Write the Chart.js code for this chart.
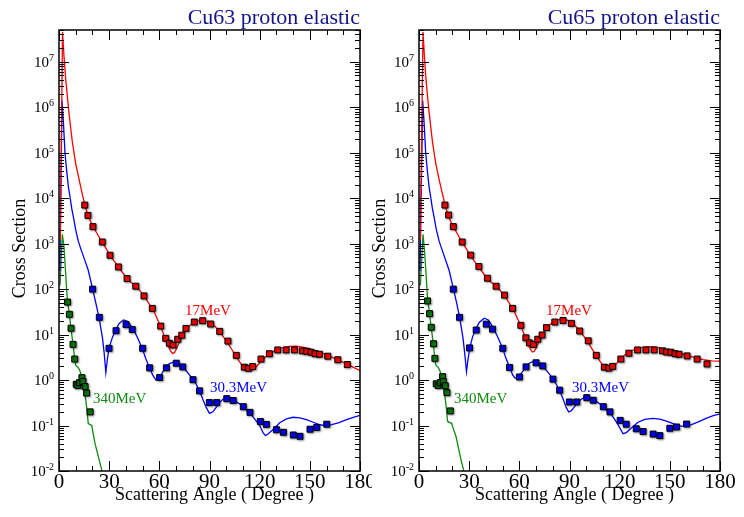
<!DOCTYPE html>
<html>
<head>
<meta charset="utf-8">
<title>Cu63 / Cu65 proton elastic</title>
<script src="https://cdn.jsdelivr.net/npm/chart.js@4.4.0/dist/chart.umd.min.js"></script>
<style>
  html, body { margin: 0; padding: 0; background: #fff; }
  #wrap { position: relative; width: 744px; height: 517px; }
  .panel { position: absolute; top: 0; width: 372px; height: 517px; }
</style>
</head>
<body>
<div id="wrap">
  <div class="panel" style="left:0"><canvas id="cu63" width="372" height="517"></canvas></div>
  <div class="panel" style="left:372px"><canvas id="cu65" width="372" height="517"></canvas></div>
</div>
<script>
// axis ticks
const xTicks = [0, 30, 60, 90, 120, 150, 180];
const yExponents = [-2, -1, 0, 1, 2, 3, 4, 5, 6, 7];
const energyLabels = ['17MeV', '30.3MeV', '340MeV'];

// Cu63 measured cross sections [angle, value]
const cu63Exp17 = [[15.4,7060],[17.3,4200],[20.3,2370],[25.9,1090],[30.5,557],[35.5,308],[40.7,171],[45.9,116],[50.8,71],[55.8,37.7],[60.8,15.4],[63.8,8.3],[66.0,6.45],[68.2,5.9],[71.0,7.9],[73.4,9.7],[75.9,13.7],[80.9,18.9],[85.9,20.2],[90.7,17.1],[96.1,11.8],[101.0,7.2],[106.0,3.5],[110.8,1.92],[113.2,1.82],[115.8,1.98],[120.8,2.9],[125.8,3.8],[130.8,4.6],[135.8,4.6],[140.8,4.6],[145.5,4.4],[148.1,4.3],[150.7,4.1],[153.1,3.8],[155.7,3.7],[160.7,3.35],[166.7,2.8],[172.4,2.2]];
const cu63Exp30 = [[20.1,100],[24.1,24],[29.9,5.0],[34.1,12.2],[40.1,16.6],[43.8,13],[50.0,5.0],[54.2,1.86],[60.2,1.14],[64.2,1.86],[70.1,2.35],[74.0,1.95],[80.1,1.02],[84.0,0.58],[89.9,0.32],[94.3,0.32],[100.3,0.39],[104.2,0.355],[110.2,0.26],[114.2,0.195],[120.4,0.123],[124.0,0.106],[130.0,0.081],[134.2,0.071],[140.1,0.062],[144.1,0.058],[150.1,0.083],[154.1,0.091],[160.1,0.107]];
const cu63Exp340 = [[5.1,52],[6.2,28],[7.2,13.8],[8.4,6.1],[9.4,2.9],[10.3,0.81],[11.3,0.76],[12.3,0.88],[13.7,1.13],[14.3,0.93],[15.6,0.72],[16.5,0.52],[18.6,0.2]];

// Cu63 calculated curves
const cu63Fit17 = [[0.8,1200],[2.1,4.5e7],[3,1.3e7],[4,4.2e6],[5,1.7e6],[6,7.4e5],[7,3.5e5],[8,1.7e5],[10,5.7e4],[12,2.6e4],[14,1.2e4],[16,6000],[18,3600],[20,2500],[22.5,1740],[25,1200],[27.5,860],[30,600],[33,413],[36,290],[39,207],[42,152],[45,124],[48,96],[51,70],[54,47],[57,31],[60,17.5],[62,11.5],[64,7.4],[66,4.9],[67,4.2],[68,3.85],[69,4.0],[70,4.7],[72,6.8],[74,9.6],[76,12.6],[78,15.4],[80,17.6],[83,19.8],[86,20.6],[89,19.6],[92,16.8],[95,13],[98,9.3],[101,6.4],[104,4.3],[107,2.85],[110,1.97],[112,1.66],[114,1.56],[116,1.66],[118,1.95],[120,2.4],[123,3.1],[126,3.8],[130,4.6],[134,5.2],[138,5.5],[142,5.6],[146,5.3],[150,4.85],[155,4.3],[160,3.6],[165,2.95],[170,2.45],[175,2.0],[180,1.6]];
const cu63Fit30 = [[0.5,250],[1.8,1.4e6],[2.6,5e5],[3.6,9.6e4],[4.6,4e4],[5.6,1.8e4],[6.6,1.05e4],[7.6,6000],[8.6,3900],[10,2000],[11.5,1150],[13.2,740],[15,480],[17.5,260],[20,105],[22,50],[24,23],[26,8.5],[27,4],[28,1.46],[29,3.0],[30,5.2],[32,8.8],[34,13],[36,17.5],[38.5,21],[41,19.5],[44,14],[47,8.5],[50,4.7],[52,2.9],[54,1.9],[56,1.3],[58,1.0],[60,1.1],[62,1.5],[64,1.95],[66,2.3],[68,2.45],[70,2.4],[72,2.2],[74,1.95],[76,1.6],[78,1.3],[80,1.05],[82,0.82],[84,0.58],[86,0.38],[88,0.25],[90,0.185],[92,0.2],[94,0.25],[96,0.32],[98,0.38],[100,0.41],[102,0.4],[104,0.37],[106,0.33],[108,0.3],[110,0.26],[112,0.22],[114,0.19],[116,0.155],[118,0.125],[120,0.1],[122,0.07],[123.5,0.06],[125,0.065],[128,0.082],[132,0.115],[136,0.14],[140,0.152],[144,0.148],[148,0.135],[152,0.118],[156,0.104],[159,0.1],[163,0.105],[167,0.115],[172,0.135],[176,0.152],[180,0.168]];
const cu63Fit340 = [[0.6,120],[2,1600],[3,850],[3.6,365],[4.6,95],[5.0,58],[6.2,28],[7.2,13.5],[8.4,6],[9.4,2.9],[10,2.1],[11.5,1.9],[12.5,1.6],[13.6,1.2],[14.5,0.85],[15.5,0.51],[16.5,0.26],[17.5,0.11],[19.6,0.1],[20.5,0.065],[21.5,0.041],[23.5,0.021],[25.5,0.0107],[27,0.005]];
const cu63LabelAt = [[75.4,27],[90.3,0.55],[20.3,0.32]];

// Cu65 measured cross sections
const cu65Exp17 = [[15.5,7060],[17.7,4270],[20.5,2370],[25.8,1090],[30.9,560],[35.8,315],[40.9,174],[46.1,116],[51.1,74],[55.9,37.8],[60.9,16],[63.9,8.5],[66.0,6.6],[68.4,6.1],[71.0,7.9],[73.6,9.8],[76.2,14.2],[81.2,18.9],[86.1,20.5],[91.1,17.7],[96.1,12],[101.2,7.3],[106.0,3.5],[110.8,1.92],[113.4,1.83],[115.8,2.0],[120.7,2.9],[125.5,3.9],[130.7,4.6],[135.7,4.6],[140.6,4.6],[145.6,4.4],[148.0,4.15],[150.6,4.1],[153.1,3.8],[155.5,3.7],[160.3,3.4],[166.3,2.9],[172.2,2.26]];
const cu65Exp30 = [[20.5,100],[24.2,24],[30.2,5.1],[34.2,12.6],[40.2,17],[43.9,13.2],[50.1,5.0],[54.1,1.9],[60.0,1.17],[64.0,1.95],[70.0,2.4],[74.0,2.05],[80.1,1.05],[84.1,0.6],[89.9,0.33],[94.3,0.33],[100.3,0.41],[104.2,0.36],[110.2,0.26],[114.2,0.2],[120.3,0.13],[123.9,0.107],[129.9,0.085],[134.0,0.074],[140.0,0.065],[144.0,0.06],[150.0,0.087],[154.0,0.093],[160.0,0.108]];
const cu65Exp340 = [[5.1,55],[6.3,29],[7.3,14.5],[8.7,6.3],[9.5,3.0],[10.3,0.83],[11.5,0.76],[12.7,0.88],[14.1,1.19],[14.5,0.93],[15.7,0.75],[16.7,0.53],[18.7,0.21]];

// Cu65 calculated curves
const cu65Fit17 = [[0.8,1200],[2.4,4.5e7],[3.2,1.4e7],[4,5e6],[5,1.9e6],[6,8e5],[7,3.8e5],[8,1.8e5],[10,5.8e4],[12,2.6e4],[14,1.25e4],[16,6200],[18,3700],[20,2550],[22.5,1760],[25,1200],[27.5,860],[30,610],[33,420],[36,295],[39,210],[42,155],[45,125],[48,98],[51,73],[54,49],[57,32],[60,18.5],[62,12.3],[64,8],[66,5.3],[67,4.5],[68,4.15],[69,4.3],[70,5.0],[72,7.2],[74,10.2],[76,13.4],[78,16.3],[80,18.6],[83,21],[86,21.8],[89,20.6],[92,17.6],[95,13.6],[98,9.8],[101,6.8],[104,4.5],[107,3.0],[110,2.1],[112,1.82],[113.5,1.75],[115,1.8],[117,2.05],[120,2.8],[123,3.55],[126,4.25],[130,4.9],[134,5.3],[138,5.45],[142,5.3],[146,4.85],[150,4.4],[155,3.95],[160,3.5],[165,3.1],[170,2.8],[175,2.65],[180,2.6]];
const cu65Fit30 = [[0.6,250],[2.2,1.4e6],[3.0,5e5],[4.0,1e5],[5.0,4e4],[6.0,1.8e4],[7.0,1.05e4],[8.0,6000],[9.0,3900],[10.4,2000],[12,1150],[13.7,750],[15.5,480],[18,260],[20.5,105],[22.5,50],[24.5,22],[26.3,8.5],[27.3,4],[28.4,1.53],[29.4,3.0],[30.4,5.2],[32,8.8],[34,13.5],[36,18.5],[39,23],[41.5,21],[44,15],[47,9],[50,5.0],[52,3.0],[54,2.0],[56,1.3],[57.5,1.1],[59.5,1.15],[62,1.55],[64,2.0],[66,2.35],[68,2.55],[70,2.55],[72,2.3],[74,2.0],[76,1.65],[78,1.35],[80,1.08],[82,0.82],[84,0.6],[86,0.4],[88,0.25],[89.5,0.2],[91,0.21],[93,0.26],[95,0.32],[97,0.38],[100,0.43],[102,0.42],[104,0.38],[106,0.34],[108,0.3],[110,0.26],[112,0.22],[114,0.19],[116,0.155],[118,0.12],[120,0.09],[122,0.066],[124,0.07],[127,0.088],[131,0.118],[135,0.137],[140,0.143],[144,0.138],[148,0.125],[152,0.11],[156,0.098],[159,0.095],[163,0.105],[167,0.12],[172,0.145],[176,0.165],[180,0.18]];
const cu65Fit340 = [[0.8,120],[2.4,1600],[3.3,700],[4.2,220],[5.1,62],[6.3,29],[7.3,14],[8.6,6.3],[9.5,2.7],[10.2,2.1],[11.5,1.9],[12.5,1.6],[13.6,1.2],[14.6,0.8],[15.5,0.44],[16.3,0.25],[17.1,0.123],[19.5,0.112],[20.3,0.09],[22.1,0.058],[25.1,0.0178],[26.6,0.0107],[28,0.005]];
const cu65LabelAt = [[76,27],[91.5,0.55],[20.9,0.32]];

const lineColors = ['#ff0000', '#0000ff', '#108a10'];
const markColors = ['#ff0000', '#0000ff', '#0a7a0a'];
const SERIF = '"Liberation Serif", "Times New Roman", serif';

const toXY = pts => pts.map(([x, y]) => ({ x, y }));

// frame, inward ticks, tick labels and all text
const decor = {
  id: 'decor',
  beforeDatasetDraw(chart, args) {
    const ds = chart.data.datasets[args.index];
    if (!ds.shadow) return;
    const ctx = chart.ctx;
    ctx.save();
    ctx.shadowColor = 'rgba(0,0,0,0.4)';
    ctx.shadowOffsetX = 1;
    ctx.shadowOffsetY = 1;
    ctx.shadowBlur = 2;
  },
  afterDatasetDraw(chart, args) {
    if (chart.data.datasets[args.index].shadow) chart.ctx.restore();
  },
  afterDraw(chart, args, o) {
    const { ctx, chartArea: a, scales: { x, y } } = chart;
    ctx.save();
    ctx.strokeStyle = '#000';
    ctx.lineWidth = 1;
    const seg = (x1, y1, x2, y2) => { ctx.beginPath(); ctx.moveTo(x1, y1); ctx.lineTo(x2, y2); ctx.stroke(); };

    for (let v = 0; v <= 180; v += 10) {
      const px = Math.round(x.getPixelForValue(v)) + 0.5;
      const len = v % 30 === 0 ? 10 : 5;
      seg(px, a.bottom, px, a.bottom - len);
      seg(px, a.top, px, a.top + len);
    }
    for (let e = -2; e <= 7; e++) {
      for (let m = 1; m <= 9; m++) {
        const v = m * Math.pow(10, e);
        if (v > y.max) break;
        const py = Math.round(y.getPixelForValue(v)) + 0.5;
        const len = m === 1 ? 10 : 5;
        seg(a.left, py, a.left + len, py);
        seg(a.right, py, a.right - len, py);
      }
    }
    ctx.lineWidth = 1.5;
    ctx.strokeRect(a.left, a.top, a.right - a.left, a.bottom - a.top);

    ctx.fillStyle = '#000';
    ctx.font = '21px ' + SERIF;
    ctx.textAlign = 'center';
    ctx.textBaseline = 'alphabetic';
    xTicks.forEach(v => ctx.fillText(String(v), x.getPixelForValue(v), a.bottom + 17));

    yExponents.forEach(e => {
      const py = y.getPixelForValue(Math.pow(10, e));
      const sup = String(e);
      ctx.font = '10px ' + SERIF;
      const sw = ctx.measureText(sup).width;
      const xr = a.left - 5 - sw;
      ctx.textAlign = 'left';
      ctx.fillText(sup, xr, py - 1);
      ctx.font = '15px ' + SERIF;
      ctx.textAlign = 'right';
      ctx.fillText('10', xr, py + 5);
    });

    ctx.font = '18px ' + SERIF;
    ctx.textAlign = 'center';
    ctx.fillText('Scattering Angle ( Degree )', (a.left + a.right) / 2 + 5, a.bottom + 29);
    ctx.save();
    ctx.translate(a.left - 34, (a.top + a.bottom) / 2 - 2);
    ctx.rotate(-Math.PI / 2);
    ctx.fillText('Cross Section', 0, 0);
    ctx.restore();

    ctx.font = '22px ' + SERIF;
    ctx.textAlign = 'right';
    ctx.fillStyle = '#141488';
    ctx.fillText(o.title, a.right, 23.5);

    ctx.font = '15px ' + SERIF;
    ctx.textAlign = 'left';
    o.labelAt.forEach(([lx, ly], i) => {
      ctx.fillStyle = lineColors[i];
      ctx.fillText(energyLabels[i], x.getPixelForValue(lx), y.getPixelForValue(ly));
    });
    ctx.restore();
  }
};

function makePanel(id, title, padding, exp, fit, labelAt) {
  const datasets = [];
  exp.forEach((pts, i) => datasets.push({
    data: toXY(pts),
    showLine: false,
    shadow: true,
    pointStyle: 'rect',
    pointRadius: 4.2,
    pointBackgroundColor: markColors[i],
    pointBorderColor: '#000',
    pointBorderWidth: 1
  }));
  fit.forEach((pts, i) => datasets.push({
    data: toXY(pts),
    showLine: true,
    borderColor: lineColors[i],
    borderWidth: 1.3,
    pointRadius: 0,
    tension: 0,
    fill: false
  }));

  new Chart(document.getElementById(id), {
    type: 'scatter',
    data: { datasets },
    options: {
      responsive: false,
      animation: false,
      events: [],
      layout: { padding },
      scales: {
        x: { type: 'linear', min: 0, max: 180, display: false },
        y: { type: 'logarithmic', min: 0.01, max: 5e7, display: false }
      },
      plugins: {
        legend: { display: false },
        tooltip: { enabled: false },
        decor: { title, labelAt }
      }
    },
    plugins: [decor]
  });
}

makePanel('cu63', 'Cu63 proton elastic', { left: 59, right: 12, top: 30, bottom: 46 },
  [cu63Exp17, cu63Exp30, cu63Exp340], [cu63Fit17, cu63Fit30, cu63Fit340], cu63LabelAt);
makePanel('cu65', 'Cu65 proton elastic', { left: 47, right: 24, top: 30, bottom: 46 },
  [cu65Exp17, cu65Exp30, cu65Exp340], [cu65Fit17, cu65Fit30, cu65Fit340], cu65LabelAt);
</script>
</body>
</html>
